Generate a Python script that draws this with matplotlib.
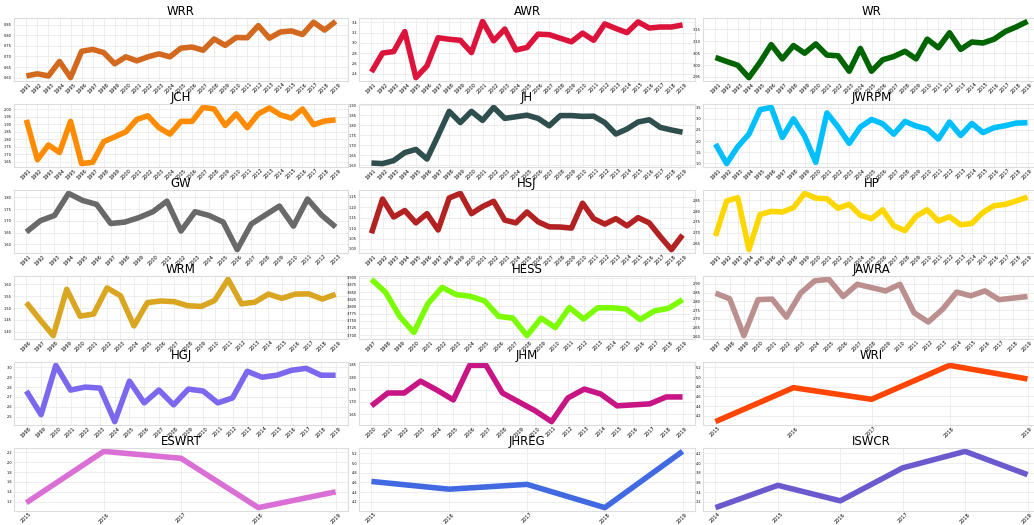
import matplotlib
matplotlib.use("Agg")
import matplotlib.pyplot as plt

# yearly series per journal
names = ["WRR", "AWR", "WR", "JCH", "JH", "JWRPM", "GW", "HSJ", "HP",
         "WRM", "HESS", "JAWRA", "HGJ", "JHM", "WRI", "ESWRT", "JHREG", "ISWCR"]

colors = ["chocolate", "crimson", "darkgreen", "darkorange", "darkslategray",
          "deepskyblue", "dimgray", "firebrick", "gold", "goldenrod", "lawngreen",
          "rosybrown", "mediumslateblue", "mediumvioletred", "orangered", "orchid",
          "royalblue", "slateblue"]

start_years = [1991, 1991, 1991, 1991, 1991, 1991, 1991, 1991, 1991,
               1996, 1997, 1997, 1998, 2000, 2015, 2015, 2015, 2014]

wrr = [0.608, 0.618, 0.608, 0.676, 0.600, 0.724, 0.733, 0.718, 0.665, 0.698,
       0.679, 0.698, 0.712, 0.698, 0.739, 0.744, 0.729, 0.782, 0.752, 0.789,
       0.788, 0.845, 0.786, 0.815, 0.820, 0.803, 0.861, 0.824, 0.865]
awr = [2.43, 2.80, 2.83, 3.22, 2.32, 2.55, 3.10, 3.07, 3.05, 2.81, 3.42, 3.04,
       3.27, 2.86, 2.91, 3.17, 3.16, 3.09, 3.02, 3.19, 3.05, 3.37, 3.28, 3.20,
       3.41, 3.29, 3.31, 3.31, 3.35]
wr = [3.032, 3.015, 2.999, 2.947, 3.012, 3.086, 3.026, 3.082, 3.050, 3.089,
      3.042, 3.039, 2.974, 3.070, 2.974, 3.022, 3.036, 3.058, 3.026, 3.109,
      3.073, 3.136, 3.066, 3.097, 3.093, 3.109, 3.141, 3.161, 3.184]
jch = [1.930, 1.665, 1.763, 1.713, 1.920, 1.639, 1.648, 1.785, 1.817, 1.850,
       1.933, 1.957, 1.878, 1.835, 1.920, 1.920, 2.013, 2.002, 1.893, 1.970,
       1.878, 1.970, 2.009, 1.963, 1.941, 2.002, 1.898, 1.922, 1.930]
jh = [1.611, 1.608, 1.623, 1.663, 1.679, 1.631, 1.748, 1.869, 1.813, 1.869,
      1.824, 1.889, 1.834, 1.842, 1.850, 1.834, 1.797, 1.848, 1.848, 1.844,
      1.845, 1.813, 1.756, 1.781, 1.816, 1.827, 1.789, 1.776, 1.765]
jwrpm = [1.868, 0.985, 1.750, 2.309, 3.412, 3.515, 2.162, 3.000, 2.221, 1.044,
         3.265, 2.632, 1.897, 2.632, 2.971, 2.779, 2.309, 2.882, 2.676, 2.544,
         2.088, 2.853, 2.250, 2.794, 2.382, 2.603, 2.691, 2.809, 2.824]
gw = [1.653, 1.701, 1.723, 1.817, 1.787, 1.770, 1.689, 1.695, 1.714, 1.739,
      1.784, 1.657, 1.739, 1.723, 1.695, 1.578, 1.687, 1.725, 1.763, 1.678,
      1.793, 1.725, 1.674]
hsj = [1.075, 1.239, 1.153, 1.184, 1.125, 1.169, 1.091, 1.244, 1.266, 1.169,
       1.203, 1.228, 1.138, 1.125, 1.177, 1.130, 1.106, 1.105, 1.100, 1.219,
       1.145, 1.119, 1.145, 1.111, 1.150, 1.125, 1.059, 0.997, 1.067]
hp = [2.685, 2.847, 2.862, 2.622, 2.784, 2.799, 2.796, 2.816, 2.882, 2.860,
      2.857, 2.813, 2.832, 2.781, 2.765, 2.806, 2.732, 2.710, 2.776, 2.806,
      2.754, 2.774, 2.737, 2.743, 2.794, 2.825, 2.831, 2.847, 2.865]
wrm = [1.523, 1.452, 1.384, 1.579, 1.466, 1.475, 1.585, 1.552, 1.425, 1.523,
       1.530, 1.527, 1.510, 1.507, 1.532, 1.621, 1.518, 1.525, 1.559, 1.541,
       1.559, 1.560, 1.538, 1.558]
hess = [3.894, 3.849, 3.765, 3.709, 3.810, 3.866, 3.841, 3.835, 3.819, 3.765,
        3.759, 3.698, 3.759, 3.726, 3.796, 3.756, 3.795, 3.795, 3.791, 3.754,
        3.784, 3.793, 3.823]
jawra = [2.847, 2.815, 2.604, 2.810, 2.813, 2.710, 2.847, 2.918, 2.926, 2.828,
         2.898, 2.879, 2.860, 2.898, 2.735, 2.682, 2.754, 2.853, 2.832, 2.860,
         2.810, 2.819, 2.828]
hgj = [2.76, 2.52, 3.02, 2.77, 2.80, 2.79, 2.45, 2.86, 2.64, 2.77, 2.62, 2.78,
       2.76, 2.64, 2.69, 2.96, 2.90, 2.92, 2.97, 2.99, 2.92, 2.92]
jhm = [1.684, 1.736, 1.736, 1.784, 1.748, 1.708, 1.848, 1.848, 1.736, 1.700,
       1.664, 1.620, 1.716, 1.752, 1.732, 1.684, 1.688, 1.692, 1.720, 1.720]
wri = [4.08, 4.78, 4.54, 5.24, 4.96]
eswrt = [1.18, 2.22, 2.08, 1.08, 1.40]
jhreg = [4.62, 4.46, 4.56, 4.08, 5.24]
iswcr = [3.08, 3.54, 3.22, 3.90, 4.24, 3.76]

series = [wrr, awr, wr, jch, jh, jwrpm, gw, hsj, hp,
          wrm, hess, jawra, hgj, jhm, wri, eswrt, jhreg, iswcr]

plt.rcParams["font.family"] = "DejaVu Sans"
fig = plt.figure(figsize=(10.34, 5.25), dpi=100)

# panel grid in pixels
W, H = 1034.0, 525.0
col_left = [14, 359, 703]
col_right = [348, 695, 1040]
row_top = [18, 104, 190, 276, 362, 448]
row_h = 63

for i, (name, vals, color, y0) in enumerate(zip(names, series, colors, start_years)):
    r, c = divmod(i, 3)
    x0 = col_left[c]
    ax = fig.add_axes([x0 / W, 1 - (row_top[r] + row_h) / H,
                       (col_right[c] - x0) / W, row_h / H])
    years = list(range(y0, y0 + len(vals)))
    ax.plot(years, vals, color=color, lw=4, solid_capstyle="butt")
    ax.set_title(name, fontsize=8.5, pad=1.5)
    ax.set_xticks(years)
    ax.set_xticklabels([str(y) for y in years], rotation=45, fontsize=3.6)
    ax.tick_params(axis="y", labelsize=2.5, length=0, pad=1.5)
    ax.tick_params(axis="x", length=0, pad=0.5)
    ax.grid(True, color="#ebebeb", lw=0.6)
    ax.set_axisbelow(True)
    for s in ax.spines.values():
        s.set_color("#dddddd")
        s.set_linewidth(0.8)
    ax.margins(x=0.04, y=0.06)

fig.savefig("out.png", dpi=100)
